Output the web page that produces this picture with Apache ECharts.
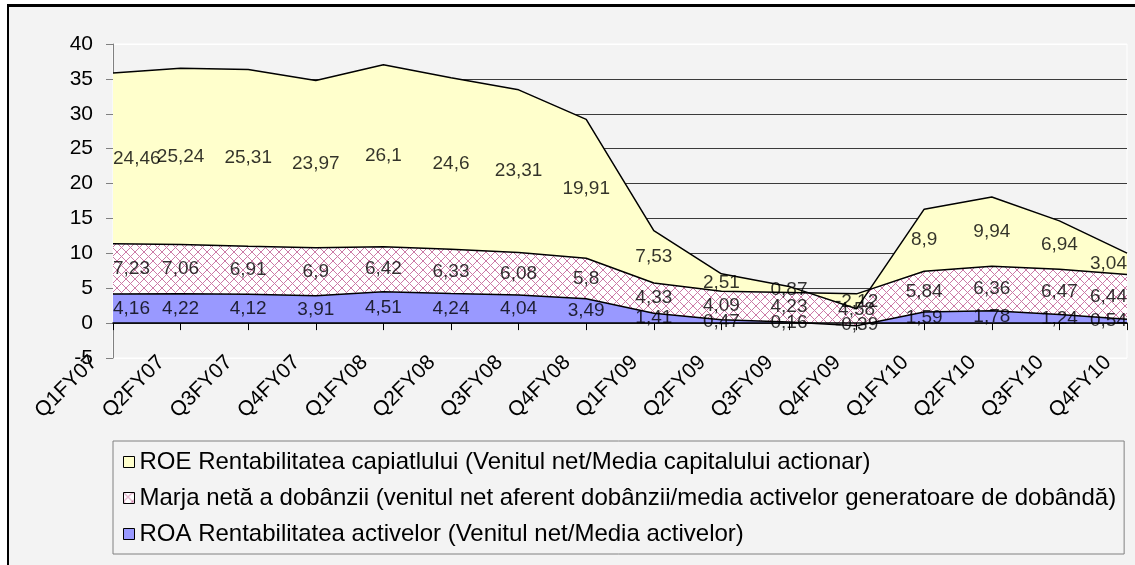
<html>
<head>
    <meta charset="utf-8" />
    <title>ROE / Marja / ROA</title>
    <style>
        body { margin: 0; background: #ffffff; }
        #frame { position: absolute; left: 7px; top: 4px; width: 1140px; height: 570px; border-left: 2px solid #000; border-top: 3px solid #000; background: #f3f3f3; }
        #main { position: absolute; left: 0; top: 0; width: 1135px; height: 565px; }
    </style>
</head>
<body>
    <div id="frame"></div>
    <div id="main"></div>
    <script src="https://cdn.jsdelivr.net/npm/echarts@6/dist/echarts.min.js"></script>
    <script type="text/javascript">
        var categories = ['Q1FY07', 'Q2FY07', 'Q3FY07', 'Q4FY07', 'Q1FY08', 'Q2FY08', 'Q3FY08', 'Q4FY08',
            'Q1FY09', 'Q2FY09', 'Q3FY09', 'Q4FY09', 'Q1FY10', 'Q2FY10', 'Q3FY10', 'Q4FY10'];
        var roa = [4.16, 4.22, 4.12, 3.91, 4.51, 4.24, 4.04, 3.49, 1.41, 0.47, 0.16, -0.39, 1.59, 1.78, 1.24, 0.54];
        var marja = [7.23, 7.06, 6.91, 6.9, 6.42, 6.33, 6.08, 5.8, 4.33, 4.09, 4.23, 4.58, 5.84, 6.36, 6.47, 6.44];
        var roe = [24.46, 25.24, 25.31, 23.97, 26.1, 24.6, 23.31, 19.91, 7.53, 2.51, 0.87, -2.12, 8.9, 9.94, 6.94, 3.04];

        var nameRoe = 'ROE Rentabilitatea capiatlului (Venitul net/Media capitalului actionar)';
        var nameMarja = 'Marja netă a dobânzii (venitul net aferent dobânzii/media activelor generatoare de dobândă)';
        var nameRoa = 'ROA Rentabilitatea activelor (Venitul net/Media activelor)';

        var font = 'Liberation Sans, Arial, sans-serif';

        // hatch pattern for the margin area
        var hatch = document.createElement('canvas');
        hatch.width = 9;
        hatch.height = 9;
        var ctx = hatch.getContext('2d');
        ctx.fillStyle = '#ffffff';
        ctx.fillRect(0, 0, 9, 9);
        ctx.strokeStyle = '#cc7aa6';
        ctx.lineWidth = 1;
        ctx.beginPath();
        ctx.moveTo(0, 0); ctx.lineTo(9, 9);
        ctx.moveTo(9, 0); ctx.lineTo(0, 9);
        ctx.stroke();

        // label positions: middle of each stacked band
        var midRoa = [], midMarja = [], midRoe = [];
        for (var i = 0; i < categories.length; i++) {
            midRoa.push(roa[i] / 2);
            midMarja.push(roa[i] + marja[i] / 2);
            midRoe.push(roa[i] + marja[i] + roe[i] / 2);
        }

        function labelSeries(mid, raw) {
            var last = mid.length - 1;
            var data = mid.map(function (v, k) {
                var item = { value: v };
                if (k === 0) item.label = { align: 'left' };
                if (k === last) item.label = { align: 'right' };
                return item;
            });
            return {
                type: 'scatter',
                symbolSize: 0,
                silent: true,
                z: 5,
                data: data,
                label: {
                    show: true,
                    position: 'inside',
                    color: '#000',
                    fontSize: 19,
                    fontFamily: font,
                    formatter: function (p) {
                        return String(raw[p.dataIndex]).replace('.', ',');
                    }
                }
            };
        }

        function areaSeries(name, data, fill) {
            return {
                name: name,
                type: 'line',
                stack: 'total',
                stackStrategy: 'all',
                data: data,
                symbol: 'none',
                lineStyle: { color: '#000', width: 1.5 },
                itemStyle: { color: fill },
                areaStyle: { color: fill, opacity: 1 }
            };
        }

        var splitColors = ['#ffffff', '#3a3a3a', '#3a3a3a', '#3a3a3a', '#3a3a3a', '#3a3a3a', '#3a3a3a', '#3a3a3a', '#3a3a3a', '#ffffff'];
        var legendIcon = { borderColor: '#000', borderWidth: 1 };

        var myChart = echarts.init(document.getElementById('main'));
        var option = {
            animation: false,
            backgroundColor: 'transparent',
            grid: {
                left: 113,
                right: 8,
                top: 44,
                bottom: 207,
                show: true,
                backgroundColor: '#f3f3f3',
                borderColor: '#ffffff',
                borderWidth: 1
            },
            legend: {
                orient: 'vertical',
                left: 113,
                top: 441,
                padding: [9, 8, 8, 10],
                itemGap: 12,
                itemWidth: 11,
                itemHeight: 11,
                icon: 'rect',
                borderColor: '#808080',
                borderWidth: 1,
                backgroundColor: '#f3f3f3',
                textStyle: { fontSize: 24, lineHeight: 24, fontFamily: font, color: '#000' },
                data: [
                    { name: nameRoe, itemStyle: legendIcon },
                    { name: nameMarja, itemStyle: legendIcon },
                    { name: nameRoa, itemStyle: legendIcon }
                ]
            },
            xAxis: [
                {
                    type: 'category',
                    data: categories,
                    boundaryGap: false,
                    axisLine: { onZero: true, lineStyle: { color: '#000', width: 1.5 } },
                    axisTick: { show: true, length: 7, lineStyle: { color: '#000' } },
                    axisLabel: { show: false },
                    splitLine: { show: false },
                    z: 6
                },
                {
                    type: 'category',
                    data: categories,
                    boundaryGap: false,
                    position: 'bottom',
                    axisLine: { show: false, onZero: false },
                    axisTick: { show: false },
                    axisLabel: {
                        rotate: 45,
                        margin: -18,
                        interval: 0,
                        padding: [0, 27, 0, 0],
                        fontSize: 21,
                        fontFamily: font,
                        color: '#000'
                    },
                    splitLine: { show: false }
                }
            ],
            yAxis: {
                type: 'value',
                min: -5,
                max: 40,
                interval: 5,
                axisLine: { show: true, lineStyle: { color: '#808080', width: 1 } },
                axisTick: { show: true, length: 7, lineStyle: { color: '#808080' } },
                axisLabel: { fontSize: 21, fontFamily: font, color: '#000', margin: 20 },
                splitLine: { show: true, lineStyle: { color: splitColors, width: 1 } }
            },
            series: [
                areaSeries(nameRoa, roa, '#9999ff'),
                areaSeries(nameMarja, marja, { image: hatch, repeat: 'repeat' }),
                areaSeries(nameRoe, roe, '#ffffcc'),
                labelSeries(midRoa, roa),
                labelSeries(midMarja, marja),
                labelSeries(midRoe, roe)
            ]
        };
        myChart.setOption(option);
    </script>
</body>
</html>
